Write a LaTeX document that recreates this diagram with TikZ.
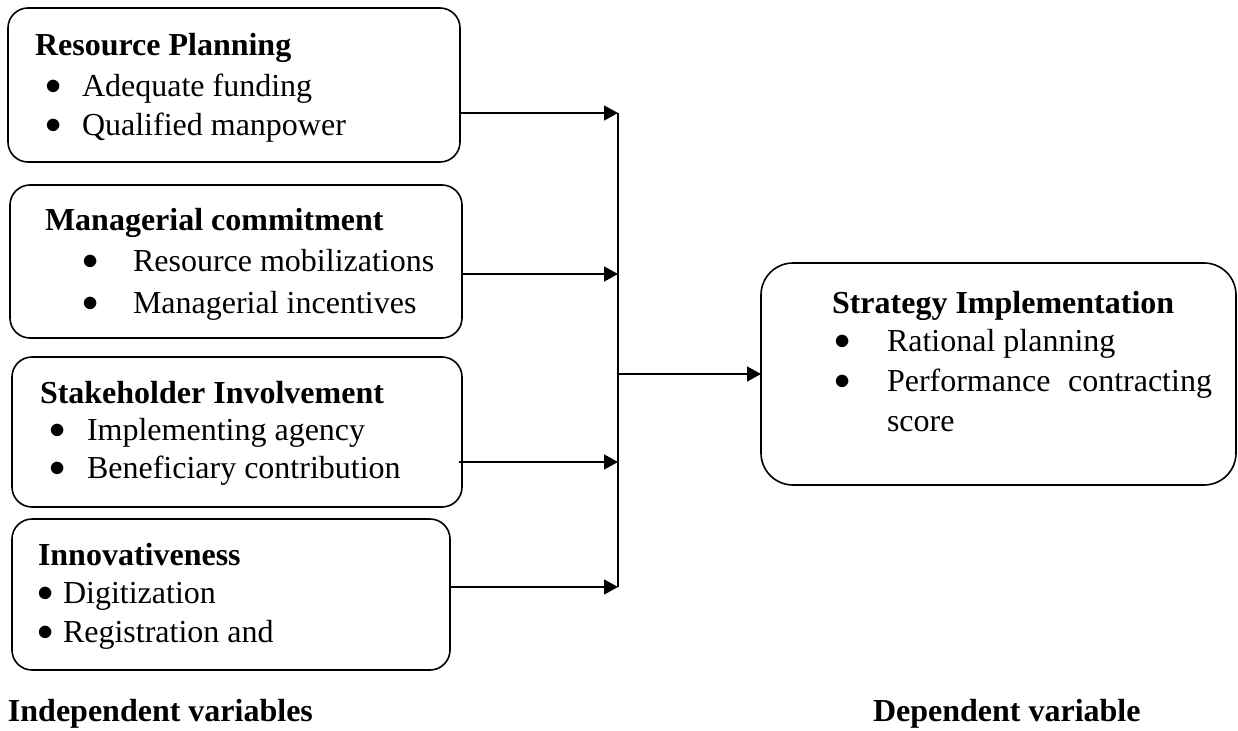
\documentclass[tikz,border=0pt]{standalone}
\usepackage{fontspec}
\setmainfont{Liberation Serif}
\usetikzlibrary{arrows.meta}
\newcommand{\bul}{\smash{\scalebox{1.3}{$\bullet$}}}
\begin{document}
\begin{tikzpicture}[x=1pt,y=-1pt,
  every node/.style={inner sep=0pt,outer sep=0pt},
  varbox/.style={draw,line width=1.6pt,rounded corners=20pt,rectangle},
  depbox/.style={draw,line width=1.6pt,rounded corners=32pt,rectangle},
  ttl/.style={anchor=base west,font=\fontsize{32}{37}\selectfont\bfseries},
  itm/.style={anchor=base west,font=\fontsize{32}{37}\selectfont},
  dot/.style={anchor=base,yshift=2pt,font=\fontsize{32}{37}\selectfont},
  conn/.style={line width=1.5pt},
  arr/.style={line width=1.5pt,-{Triangle[length=14pt,width=15pt]}}]
\useasboundingbox (0,0) rectangle (1238,730);
% boxes
\node[varbox,minimum width=452pt,minimum height=154pt] (b1) at (234,85) {};
\node[varbox,minimum width=452pt,minimum height=153pt] (b2) at (236,261.5) {};
\node[varbox,minimum width=450pt,minimum height=150pt] (b3) at (237,432) {};
\node[varbox,minimum width=438pt,minimum height=151pt] (b4) at (231,594.5) {};
\node[depbox,minimum width=475pt,minimum height=222pt] (b5) at (998.5,374) {};
% box 1 text
\node[ttl] (t1) at (35,56) {Resource Planning};
\node[dot] (d1a) at (54,97) {\bul};
\node[itm] (i1a) at (82,97) {Adequate funding};
\node[dot] (d1b) at (54,136) {\bul};
\node[itm] (i1b) at (82,136) {Qualified manpower};
% box 2 text
\node[ttl] (t2) at (45,230) {Managerial commitment};
\node[dot] (d2a) at (91,271) {\bul};
\node[itm] (i2a) at (133,271) {Resource mobilizations};
\node[dot] (d2b) at (91,313) {\bul};
\node[itm] (i2b) at (133,313) {Managerial incentives};
% box 3 text
\node[ttl] (t3) at (40,403) {Stakeholder Involvement};
\node[dot] (d3a) at (58,440) {\bul};
\node[itm] (i3a) at (87,440) {Implementing agency};
\node[dot] (d3b) at (58,478) {\bul};
\node[itm] (i3b) at (87,478) {Beneficiary contribution};
% box 4 text
\node[ttl] (t4) at (38,565) {Innovativeness};
\node[dot] (d4a) at (46,603) {\bul};
\node[itm] (i4a) at (63,603) {Digitization};
\node[dot] (d4b) at (46,642) {\bul};
\node[itm] (i4b) at (63,642) {Registration and};
% box 5 text
\node[ttl] (t5) at (832,313) {Strategy Implementation};
\node[dot] (d5a) at (843,351) {\bul};
\node[itm] (i5a) at (887,351) {Rational planning};
\node[dot] (d5b) at (843,391) {\bul};
\node[itm] (i5b) at (887,391) {\makebox[325pt][s]{Performance contracting}};
\node[itm] (i5c) at (887,431) {score};
% labels
\node[ttl] (lind) at (8,721) {Independent variables};
\node[ttl] (ldep) at (873,721) {Dependent variable};
% connectors
\coordinate (j1) at (618,113);
\coordinate (j2) at (618,274);
\coordinate (j3) at (618,462);
\coordinate (j4) at (618,587);
\draw[arr] (b1.east |- j1) -- (j1);
\draw[arr] (b2.east |- j2) -- (j2);
\draw[arr,shorten <=-3pt] (b3.east |- j3) -- (j3);
\draw[arr] (b4.east |- j4) -- (j4);
\draw[conn] (j1) -- (j4);
\draw[arr] (b5.west -| j1) -- (b5.west);
\end{tikzpicture}
\end{document}
